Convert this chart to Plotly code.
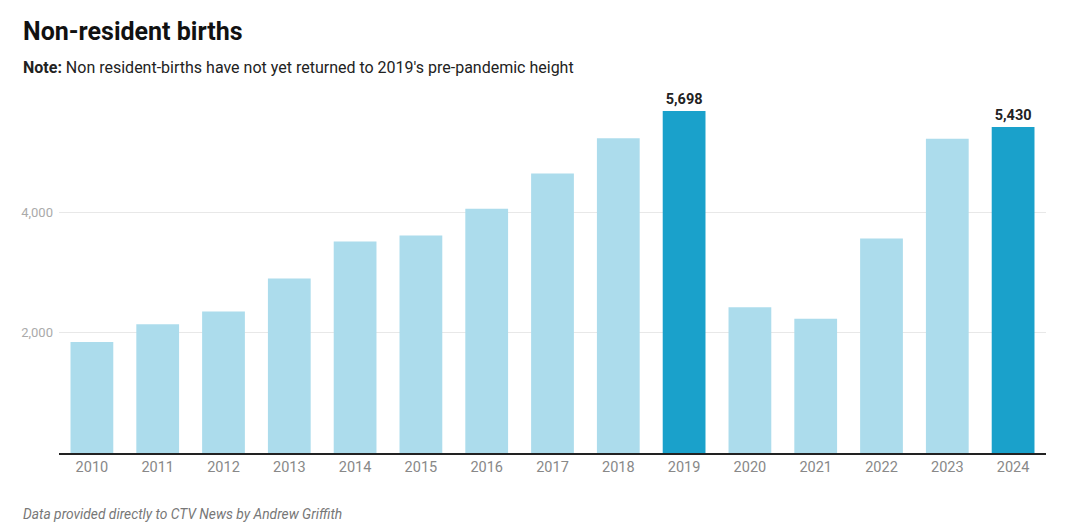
import plotly.graph_objects as go

years = ["2010", "2011", "2012", "2013", "2014", "2015", "2016", "2017",
         "2018", "2019", "2020", "2021", "2022", "2023", "2024"]
births = [1850, 2143, 2355, 2905, 3522, 3622, 4067, 4655,
          5243, 5698, 2428, 2238, 3572, 5233, 5430]
highlight = ["2019", "2024"]
tick_vals = [2000, 4000]
tick_text = ["2,000", "4,000"]

light = "#acdcec"
dark = "#1aa1cb"
colors = [dark if y in highlight else light for y in years]
labels = [f"{v:,}" if y in highlight else "" for y, v in zip(years, births)]

fig = go.Figure()
fig.add_trace(go.Bar(
    x=years, y=births, marker_color=colors, marker_line_width=0,
    text=labels, textposition="outside", cliponaxis=False,
    textfont=dict(family="Roboto", size=14.5, color="#222222", weight="bold"),
    hoverinfo="x+y",
))

fig.update_layout(
    width=1064, height=516,
    paper_bgcolor="white", plot_bgcolor="white",
    margin=dict(l=51, r=26, t=92, b=71),
    bargap=0.35,
    showlegend=False,
    font=dict(family="Roboto", color="#666666"),
    xaxis=dict(
        type="category", showgrid=False, showline=True, linecolor="#222222",
        linewidth=2, ticks="", tickfont=dict(size=14.5, color="#888888"),
    ),
    yaxis=dict(
        range=[0, 5880], tickvals=tick_vals, ticktext=tick_text,
        showgrid=True, gridcolor="#e8e8e8", gridwidth=1, zeroline=False,
        showline=False, ticks="", ticklabelstandoff=5,
        tickfont=dict(size=13, color="#aaaaaa"),
    ),
)

fig.add_annotation(
    text="<b>Non-resident births</b>", xref="paper", yref="paper",
    x=0, xshift=-38, y=1, yshift=69, xanchor="left", yanchor="middle",
    showarrow=False, font=dict(family="Roboto", size=25, color="#111111"),
)
fig.add_annotation(
    text="<b>Note:</b> Non resident-births have not yet returned to 2019's pre-pandemic height",
    xref="paper", yref="paper",
    x=0, xshift=-38, y=1, yshift=33, xanchor="left", yanchor="middle",
    showarrow=False, font=dict(family="Roboto", size=16, color="#222222"),
)
fig.add_annotation(
    text="<i>Data provided directly to CTV News by Andrew Griffith</i>",
    xref="paper", yref="paper",
    x=0, xshift=-38, y=0, yshift=-61, xanchor="left", yanchor="middle",
    showarrow=False, font=dict(family="Roboto", size=13.8, color="#777777"),
)

fig.write_html("out.html")
